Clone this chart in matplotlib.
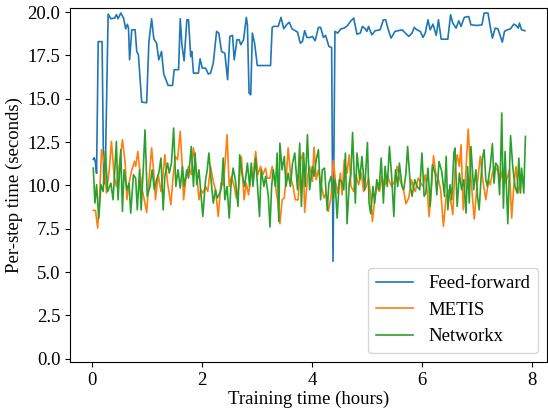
import matplotlib
matplotlib.use("Agg")
import matplotlib.pyplot as plt
import numpy as np

plt.rcParams['font.family'] = ['Liberation Serif', 'DejaVu Serif']

# Feed-forward: (training hours, per-step seconds)
ff_hours = [0.03, 0.05, 0.07, 0.09, 0.12, 0.19, 0.22, 0.245, 0.30, 0.35, 0.42, 0.45,
            0.48, 0.53, 0.58, 0.62, 0.65, 0.67, 0.69, 0.73, 0.79, 0.82, 0.85, 0.91,
            1.00, 1.04, 1.09, 1.13, 1.18, 1.22, 1.27, 1.31, 1.39, 1.47, 1.50, 1.58,
            1.61, 1.64, 1.68, 1.73, 1.76, 1.80, 1.82, 1.85, 1.94, 1.97, 2.01, 2.07,
            2.12, 2.16, 2.21, 2.27, 2.31, 2.36, 2.42, 2.47, 2.51, 2.56, 2.59, 2.64,
            2.68, 2.71, 2.76, 2.81, 2.83, 2.86, 2.89, 2.92, 2.96, 3.01, 3.25, 3.28,
            3.31, 3.39, 3.44, 3.49, 3.54, 3.59, 3.64, 3.70, 3.74, 3.79, 3.83, 3.87,
            3.91, 3.97, 4.01, 4.06, 4.12, 4.16, 4.21, 4.25, 4.31, 4.36, 4.385, 4.42,
            4.47, 4.53, 4.59, 4.65, 4.70, 4.76, 4.82, 4.88, 4.92, 4.97, 5.00, 5.03,
            5.09, 5.15, 5.24, 5.30, 5.34, 5.39, 5.44, 5.51, 5.64, 5.70, 5.76, 5.82,
            5.86, 5.91, 5.97, 6.02, 6.06, 6.11, 6.15, 6.20, 6.26, 6.30, 6.35, 6.47,
            6.52, 6.56, 6.62, 6.67, 6.71, 6.77, 6.85, 6.89, 7.00, 7.09, 7.13, 7.20,
            7.24, 7.28, 7.33, 7.38, 7.46, 7.50, 7.55, 7.61, 7.67, 7.71, 7.75, 7.77,
            7.81, 7.87]
ff_time = [11.5, 11.6, 11.3, 10.7, 18.3, 18.3, 10.1, 10.1, 19.89, 19.62, 19.66, 19.85,
           19.62, 19.95, 19.66, 19.04, 19.3, 19.08, 17.25, 18.98, 18.98, 17.73, 17.54, 14.81,
           14.77, 18.27, 19.62, 18.46, 18.21, 17.25, 17.73, 16.43, 15.77, 15.77, 16.68, 16.68,
           19.62, 18.12, 17.19, 19.56, 19.56, 17.44, 17.73, 16.48, 16.48, 17.31, 16.77, 16.77,
           16.43, 16.48, 17.06, 18.89, 18.79, 17.73, 17.63, 16.1, 18.6, 18.66, 17.25, 18.41,
           18.41, 18.12, 18.41, 19.7, 19.27, 15.33, 15.23, 18.79, 18.21, 16.92, 16.92, 19.12,
           19.18, 19.18, 19.7, 19.04, 19.27, 19.42, 19.04, 18.93, 18.85, 18.21, 18.31, 18.93,
           18.54, 18.54, 18.6, 18.35, 19.12, 19.12, 18.54, 18.66, 18.02, 17.96, 5.62, 18.89,
           18.79, 19.04, 19.08, 19.23, 19.46, 19.66, 18.73, 18.79, 19.18, 19.04, 18.89, 19.18,
           18.69, 18.93, 18.98, 19.56, 19.56, 18.98, 18.5, 18.89, 18.98, 18.79, 18.6, 18.79,
           19.12, 18.98, 18.89, 18.54, 18.79, 19.56, 18.98, 19.31, 18.66, 19.56, 18.44, 18.44,
           19.85, 19.37, 19.08, 19.5, 19.18, 19.7, 19.75, 19.27, 19.23, 19.27, 19.95, 19.95,
           19.18, 18.5, 19.08, 19.04, 18.27, 18.89, 18.98, 19.04, 19.31, 19.23, 19.08, 19.37,
           18.98, 18.93]

# METIS
metis_hours = [0.03, 0.07, 0.11, 0.14, 0.18, 0.23, 0.27, 0.32, 0.36, 0.41, 0.45, 0.50,
               0.56, 0.61, 0.64, 0.68, 0.73, 0.78, 0.80, 0.84, 0.88, 0.92, 0.96, 1.00,
               1.04, 1.09, 1.13, 1.16, 1.21, 1.26, 1.30, 1.33, 1.38, 1.44, 1.48, 1.52,
               1.56, 1.61, 1.65, 1.67, 1.71, 1.76, 1.81, 1.85, 1.90, 1.95,
               1.98, 2.02, 2.07, 2.11, 2.16, 2.21, 2.25, 2.30, 2.35, 2.39, 2.42, 2.46,
               2.50, 2.54, 2.59, 2.63, 2.67, 2.72, 2.77, 2.81, 2.85, 2.90, 2.93, 2.98,
               3.02, 3.07, 3.11, 3.16, 3.19, 3.24, 3.28, 3.33, 3.38, 3.42, 3.46, 3.50,
               3.54, 3.57, 3.62, 3.66, 3.70, 3.75, 3.80, 3.84, 3.87, 3.92, 3.96, 4.01,
               4.04, 4.08, 4.12, 4.17, 4.22, 4.26, 4.30, 4.35, 4.39, 4.43, 4.47, 4.52,
               4.55, 4.59, 4.64, 4.68, 4.71, 4.76, 4.80, 4.85, 4.90, 4.94, 4.99, 5.03,
               5.07, 5.10, 5.14, 5.18, 5.23, 5.27, 5.32, 5.37, 5.41, 5.45, 5.50, 5.55,
               5.59, 5.64, 5.67, 5.71, 5.76, 5.81, 5.84, 5.88, 5.93, 5.98, 6.02, 6.06,
               6.10, 6.13, 6.18, 6.21, 6.25, 6.30, 6.34, 6.39, 6.44, 6.48, 6.53, 6.56,
               6.60, 6.64, 6.68, 6.71, 6.75, 6.80, 6.84, 6.89, 6.95, 7.00, 7.06, 7.10,
               7.16, 7.21, 7.24, 7.28, 7.33, 7.38, 7.42, 7.47, 7.51, 7.56, 7.59, 7.63,
               7.67, 7.71, 7.75, 7.80, 7.85]
metis_time = [8.56, 8.56, 7.54, 8.98, 12.06, 11.29, 9.56, 10.90, 12.54, 10.52, 9.94, 11.10,
              12.64, 11.29, 9.17, 10.13, 10.90, 11.38, 11.10, 11.96, 10.71, 9.75, 9.08, 8.44,
              10.23, 12.16, 10.71, 9.17, 10.62, 9.65, 10.71, 11.77, 10.13, 8.88, 10.52, 11.67,
              11.48, 13.12, 10.90, 9.17, 10.33, 11.10, 10.62, 12.16, 11.00, 9.17,
              9.75, 9.56, 9.94, 9.65, 11.10, 10.23, 9.75, 8.21, 10.13, 10.04, 11.10, 12.93,
              9.94, 10.52, 9.94, 9.27, 9.85, 11.67, 9.17, 10.13, 9.46, 10.71, 10.52, 11.96,
              10.62, 11.10, 10.62, 11.00, 10.42, 10.42, 11.10, 10.13, 9.08, 7.79, 9.17, 9.27,
              10.71, 12.16, 10.42, 9.94, 9.17, 9.17, 11.48, 11.87, 8.44, 10.42, 11.10, 10.23,
              12.21, 10.33, 10.90, 10.04, 9.27, 9.56, 8.50, 9.37, 11.45, 10.23, 9.56, 10.71,
              9.46, 11.48, 10.71, 11.77, 9.94, 9.65, 10.62, 10.04, 10.71, 9.65, 9.94, 10.42,
              9.37, 7.92, 9.08, 9.94, 9.65, 10.52, 9.94, 10.62, 10.23, 9.94, 10.23, 11.10,
              10.42, 9.94, 9.65, 8.94, 9.27, 10.33, 9.94, 9.65, 10.42, 10.13, 9.94, 10.62,
              9.56, 8.21, 10.13, 11.71, 10.71, 10.33, 9.75, 7.64, 9.37, 9.75, 8.98, 8.31,
              10.90, 11.77, 11.09, 12.35, 8.59, 10.90, 13.25, 10.42, 8.06, 9.94, 11.68, 10.42,
              9.17, 10.33, 10.04, 10.71, 11.09, 10.81, 10.23, 11.00, 10.13, 10.52, 10.90, 8.11,
              10.04, 11.09, 9.56, 10.33, 10.52]

# Networkx
nx_hours = [0.03, 0.06, 0.09, 0.13, 0.17, 0.21, 0.25, 0.29, 0.35, 0.39, 0.45, 0.48,
            0.53, 0.56, 0.59, 0.64, 0.68, 0.71, 0.76, 0.80, 0.83, 0.87, 0.90, 0.94,
            0.97, 1.01, 1.06, 1.10, 1.14, 1.18, 1.22, 1.26, 1.30, 1.33, 1.38, 1.41,
            1.45, 1.49, 1.53, 1.57, 1.61, 1.65, 1.68, 1.73, 1.76, 1.81, 1.85, 1.88,
            1.91, 1.95,
            2.02, 2.07, 2.10, 2.13, 2.18, 2.21, 2.25, 2.28, 2.33, 2.36, 2.39, 2.42,
            2.46, 2.50, 2.53, 2.57, 2.61, 2.66, 2.69, 2.73, 2.78, 2.83, 2.87, 2.90,
            2.93, 2.98, 3.01, 3.05, 3.08, 3.13, 3.16, 3.21, 3.24, 3.27, 3.30, 3.34,
            3.37, 3.40, 3.42, 3.46, 3.50, 3.53, 3.57, 3.61, 3.65, 3.69, 3.74, 3.78,
            3.81, 3.85, 3.88, 3.92, 3.96, 4.01,
            4.04, 4.08, 4.12, 4.16, 4.19, 4.23, 4.28, 4.31, 4.35, 4.39, 4.42, 4.46,
            4.50, 4.54, 4.58, 4.61, 4.64, 4.68, 4.71, 4.74, 4.79, 4.82, 4.87, 4.91,
            4.96, 5.01, 5.04, 5.07, 5.11, 5.14, 5.18, 5.22, 5.26, 5.30, 5.33, 5.37,
            5.41, 5.45, 5.49, 5.52, 5.56, 5.59, 5.64, 5.67, 5.71, 5.74, 5.79, 5.82,
            5.87, 5.91, 5.96, 6.00, 6.04,
            6.07, 6.11, 6.15, 6.19, 6.24, 6.27, 6.31, 6.36, 6.41, 6.44, 6.47, 6.51,
            6.54, 6.58, 6.60, 6.64, 6.68, 6.72, 6.76, 6.80, 6.83, 6.86, 6.89, 6.94,
            6.98, 7.01, 7.04, 7.07, 7.10, 7.13, 7.16, 7.19, 7.24, 7.28, 7.31, 7.34,
            7.38, 7.41, 7.43, 7.45, 7.48, 7.51, 7.56, 7.61, 7.65, 7.69, 7.73, 7.76,
            7.79, 7.81, 7.85, 7.88]
nx_time = [11.00, 8.98, 10.04, 8.11, 10.04, 9.65, 11.96, 9.65, 10.13, 9.17, 12.54, 9.17,
           12.06, 8.50, 10.90, 9.75, 10.13, 8.40, 10.62, 10.42, 8.59, 10.90, 8.59, 11.10,
           13.21, 9.37, 9.94, 10.90, 9.75, 10.33, 10.71, 11.58, 8.59, 10.52, 11.29, 10.71,
           11.29, 13.31, 9.94, 10.90, 9.85, 11.10, 9.94, 10.90, 10.42, 12.25, 9.94, 11.87,
           10.04, 10.90,
           8.21, 10.33, 10.90, 11.87, 9.94, 8.98, 9.75, 9.27, 9.56, 9.94, 11.58, 9.17,
           9.94, 8.11, 9.94, 11.00, 10.33, 8.79, 11.77, 10.71, 9.94, 11.29, 9.94, 11.29,
           9.94, 11.58, 10.13, 8.21, 10.90, 9.94, 10.52, 9.37, 7.60, 9.94, 10.90, 9.94,
           11.87, 7.92, 12.44, 10.90, 11.67, 9.94, 10.71, 9.94, 11.29, 11.87, 9.75, 12.44,
           8.79, 11.87, 9.94, 12.93, 9.75, 11.10,
           10.52, 11.48, 12.06, 9.17, 10.90, 11.00, 8.56, 10.13, 10.52, 9.17, 10.33, 8.11,
           10.33, 10.23, 9.75, 11.87, 7.79, 10.13, 10.62, 13.06, 8.98, 11.87, 10.33, 11.67,
           9.75, 12.48, 8.98, 8.36, 9.94, 8.98, 10.33, 9.75, 11.58, 8.98, 11.10, 9.94,
           12.25, 10.52, 8.21, 10.90, 9.94, 11.29, 9.94, 9.75, 10.71, 12.25, 9.94, 9.37,
           10.33, 9.94, 9.75, 11.87, 9.37,
           9.56, 11.00, 8.79, 11.19, 10.71, 9.46, 11.38, 10.81, 9.37, 11.68, 8.59, 10.04,
           9.17, 11.87, 12.16, 8.79, 10.71, 9.75, 10.33, 8.40, 11.09, 8.98, 12.25, 9.75,
           10.90, 9.37, 8.59, 10.23, 11.58, 12.06, 10.33, 9.94, 11.09, 12.41, 10.13, 11.29,
           11.09, 9.46, 11.48, 14.18, 8.69, 11.96, 7.79, 12.87, 11.09, 9.94, 9.56, 11.58,
           9.56, 11.00, 9.56, 12.83]

fig = plt.figure(figsize=(5.48, 4.12), dpi=100)
ax = fig.add_axes([0.128, 0.121, 0.870, 0.860])

ax.plot(ff_hours, ff_time, color='C0', lw=1.2, label='Feed-forward')
ax.plot(metis_hours, metis_time, color='C1', lw=1.2, label='METIS')
ax.plot(nx_hours, nx_time, color='C2', lw=1.2, label='Networkx')

ax.set_xlim(-0.39, 8.27)
ax.set_ylim(-0.2, 20.25)
ax.set_yticks(np.arange(0, 20.1, 2.5))
ax.set_xticks([0, 2, 4, 6, 8])
ax.tick_params(labelsize=13.5)
ax.set_xlabel('Training time (hours)', fontsize=13.5, labelpad=1)
ax.set_ylabel('Per-step time (seconds)', fontsize=13.5, labelpad=3)
ax.legend(loc='lower right', fontsize=13.5)

fig.savefig('out.png', dpi=100)
